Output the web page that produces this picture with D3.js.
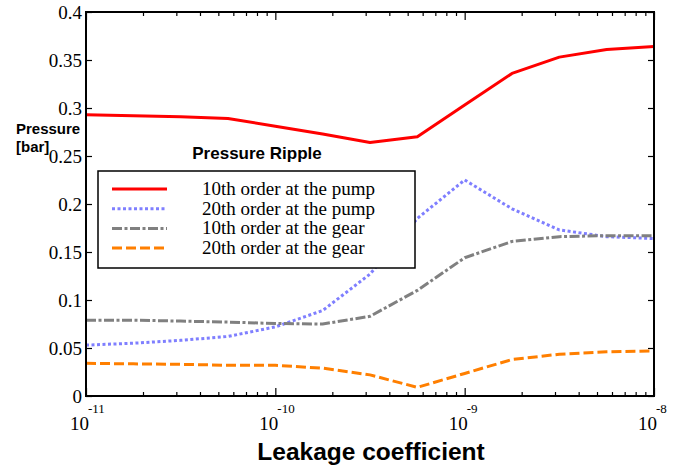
<!DOCTYPE html>
<html>
<head>
<meta charset="utf-8">
<script src="https://cdn.jsdelivr.net/npm/d3@7"></script>
<style>
  body { margin: 0; background: #fff; }
  svg { display: block; }
</style>
</head>
<body>
<div id="chart"></div>
<script>
// leakage coefficient, quarter-decade steps
const leakage = [1e-11, 1.778e-11, 3.162e-11, 5.623e-11, 1e-10, 1.778e-10, 3.162e-10,
  5.623e-10, 1e-9, 1.778e-9, 3.162e-9, 5.623e-9, 1e-8];

const pump10 = [0.293, 0.292, 0.291, 0.289, 0.281, 0.273, 0.264, 0.270, 0.303, 0.336, 0.353, 0.361, 0.364];
const pump20 = [0.053, 0.055, 0.058, 0.062, 0.072, 0.089, 0.127, 0.185, 0.225, 0.195, 0.173, 0.166, 0.164];
const gear10 = [0.079, 0.079, 0.078, 0.077, 0.0755, 0.075, 0.083, 0.110, 0.144, 0.161, 0.166, 0.167, 0.167];
const gear20 = [0.034, 0.0335, 0.033, 0.032, 0.032, 0.029, 0.022, 0.009, 0.0235, 0.038, 0.0435, 0.046, 0.047];

const seriesNames = ["10th order at the pump", "20th order at the pump",
  "10th order at the gear", "20th order at the gear"];
const yTicks = [0, 0.05, 0.1, 0.15, 0.2, 0.25, 0.3, 0.35, 0.4];
const yTickLabels = ["0", "0.05", "0.1", "0.15", "0.2", "0.25", "0.3", "0.35", "0.4"];
const xMajor = [1e-11, 1e-10, 1e-9, 1e-8];
const xExponents = ["-11", "-10", "-9", "-8"];

const width = 678, height = 466;
const margin = { top: 12, right: 24, bottom: 70, left: 86 };

const svg = d3.select("#chart").append("svg")
  .attr("width", width)
  .attr("height", height);

const x = d3.scaleLog()
  .domain([1e-11, 1e-8])
  .range([margin.left, width - margin.right]);

const y = d3.scaleLinear()
  .domain([0, 0.4])
  .range([height - margin.bottom, margin.top]);

const x0 = x.range()[0], x1 = x.range()[1];
const y0 = y.range()[0], y1 = y.range()[1];

// minor ticks 2..9 per decade
const xMinor = [];
[1e-11, 1e-10, 1e-9].forEach(d => {
  for (let m = 2; m <= 9; m++) xMinor.push(d * m);
});

const serif = "'Liberation Serif', 'Times New Roman', serif";
const sans = "'Liberation Sans', Arial, sans-serif";

function styleAxis(g) {
  g.select(".domain").remove();
  g.selectAll(".tick line").attr("stroke", "#000").attr("stroke-width", 1.2);
  g.selectAll(".tick text").remove();
}

// bottom / top ticks, pointing inward
svg.append("g").attr("transform", `translate(0,${y0})`)
  .call(d3.axisBottom(x).tickValues(xMajor).tickSize(-8).tickFormat(""))
  .call(styleAxis);
svg.append("g").attr("transform", `translate(0,${y0})`)
  .call(d3.axisBottom(x).tickValues(xMinor).tickSize(-4).tickFormat(""))
  .call(styleAxis);
svg.append("g").attr("transform", `translate(0,${y1})`)
  .call(d3.axisTop(x).tickValues(xMajor).tickSize(-8).tickFormat(""))
  .call(styleAxis);
svg.append("g").attr("transform", `translate(0,${y1})`)
  .call(d3.axisTop(x).tickValues(xMinor).tickSize(-4).tickFormat(""))
  .call(styleAxis);

// left / right ticks
svg.append("g").attr("transform", `translate(${x0},0)`)
  .call(d3.axisLeft(y).tickValues(yTicks).tickSize(-6).tickFormat(""))
  .call(styleAxis);
svg.append("g").attr("transform", `translate(${x1},0)`)
  .call(d3.axisRight(y).tickValues(yTicks).tickSize(-6).tickFormat(""))
  .call(styleAxis);

// y tick labels
svg.append("g").selectAll("text")
  .data(yTicks)
  .join("text")
  .attr("x", x0 - 4)
  .attr("y", d => y(d))
  .attr("dy", "0.35em")
  .attr("text-anchor", "end")
  .attr("font-family", serif)
  .attr("font-size", 19)
  .text((d, i) => yTickLabels[i]);

// x tick labels: 10 with superscript exponent
const xl = svg.append("g").selectAll("g")
  .data(xMajor)
  .join("g")
  .attr("transform", d => `translate(${x(d)},0)`);
xl.append("text")
  .attr("x", 3)
  .attr("y", 430)
  .attr("text-anchor", "end")
  .attr("font-family", serif)
  .attr("font-size", 19)
  .text("10");
xl.append("text")
  .attr("x", 2)
  .attr("y", 413)
  .attr("font-family", serif)
  .attr("font-size", 13)
  .text((d, i) => xExponents[i]);

// lines
const series = [
  { name: seriesNames[0], values: pump10, color: "#ff0000", dash: null },
  { name: seriesNames[1], values: pump20, color: "#7f7fff", dash: "3,2.5" },
  { name: seriesNames[2], values: gear10, color: "#808080", dash: "10,2.5,3,2.5" },
  { name: seriesNames[3], values: gear20, color: "#ff7f00", dash: "10,4" }
];

const line = d3.line()
  .x((d, i) => x(leakage[i]))
  .y(d => y(d));

svg.append("g").selectAll("path")
  .data(series)
  .join("path")
  .attr("d", d => line(d.values))
  .attr("fill", "none")
  .attr("stroke", d => d.color)
  .attr("stroke-width", 3)
  .attr("stroke-linejoin", "round")
  .attr("stroke-dasharray", d => d.dash);

// frame
svg.append("rect")
  .attr("x", x0).attr("y", y1)
  .attr("width", x1 - x0).attr("height", y0 - y1)
  .attr("fill", "none")
  .attr("stroke", "#000")
  .attr("stroke-width", 2);

// legend
const legend = svg.append("g");
legend.append("rect")
  .attr("x", 98).attr("y", 171)
  .attr("width", 317).attr("height", 97)
  .attr("fill", "#fff")
  .attr("stroke", "#000")
  .attr("stroke-width", 1.5);
legend.append("text")
  .attr("x", 257).attr("y", 159)
  .attr("text-anchor", "middle")
  .attr("font-family", sans)
  .attr("font-weight", "bold")
  .attr("font-size", 17)
  .text("Pressure Ripple");

const items = legend.selectAll("g.item")
  .data(series)
  .join("g")
  .attr("class", "item")
  .attr("transform", (d, i) => `translate(0,${189 + i * 19.7})`);
items.append("line")
  .attr("x1", 112).attr("x2", 167)
  .attr("stroke", d => d.color)
  .attr("stroke-width", 3)
  .attr("stroke-dasharray", d => d.dash);
items.append("text")
  .attr("x", 202)
  .attr("y", 6)
  .attr("font-family", serif)
  .attr("font-size", 19)
  .text(d => d.name);

// axis titles
svg.append("text")
  .attr("x", 16).attr("y", 134)
  .attr("font-family", sans)
  .attr("font-weight", "bold")
  .attr("font-size", 15)
  .text("Pressure");
svg.append("text")
  .attr("x", 16).attr("y", 152)
  .attr("font-family", sans)
  .attr("font-weight", "bold")
  .attr("font-size", 15)
  .text("[bar]");

svg.append("text")
  .attr("x", 371).attr("y", 460)
  .attr("text-anchor", "middle")
  .attr("font-family", sans)
  .attr("font-weight", "bold")
  .attr("font-size", 24.5)
  .text("Leakage coefficient");
</script>
</body>
</html>
